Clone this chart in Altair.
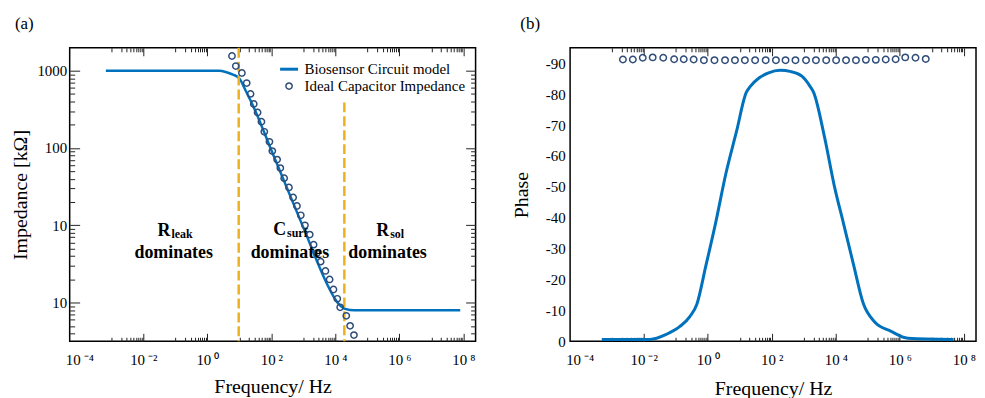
import altair as alt
import pandas as pd

SERIF = "Liberation Serif"
BLUE = "#0072BD"
NAVY = "#2F4C78"
ORANGE = "#EDB120"

# ---------------- Panel (a): impedance ----------------
line_a_logf = [-3.17, 0.37, 0.6, 0.8, 1.0, 1.2, 1.5, 2.0, 3.0, 3.8, 4.0, 4.15, 4.3, 4.6, 7.9]
line_a_logz = [3.0, 3.0, 2.98, 2.95, 2.90, 2.74, 2.48, 1.97, 0.97, 0.19, 0.04, -0.04, -0.08, -0.1, -0.1]

cap_a_logf = [0.77, 0.89, 1.08, 1.23, 1.35, 1.45, 1.57, 1.69, 1.78, 1.94, 2.03, 2.18, 2.28, 2.40,
              2.55, 2.68, 2.80, 2.92, 3.05, 3.20, 3.32, 3.42, 3.54, 3.69, 3.82, 3.94, 4.06, 4.15,
              4.34, 4.46, 4.58]
cap_a_logz = [3.19, 3.06, 2.97, 2.84, 2.70, 2.57, 2.46, 2.34, 2.21, 2.08, 1.96, 1.85, 1.74, 1.61,
              1.49, 1.36, 1.25, 1.13, 1.00, 0.88, 0.75, 0.64, 0.53, 0.41, 0.30, 0.17, 0.05, -0.06,
              -0.17, -0.30, -0.42]

rule_logf = [0.98, 4.28]
rule_top_logz = [3.296, 2.59]
rule_bottom_logz = [-0.5, -0.5]

ann_main = ["R", "C", "R"]
ann_sub = ["leak", "surf", "sol"]
ann_join_logf = [-1.15, 2.46, 5.68]
ann_main_logz = [0.86, 0.87, 0.86]
ann_sub_logz = [0.835, 0.845, 0.835]
ann_word = ["dominates", "dominates", "dominates"]
ann_word_logf = [-1.05, 2.58, 5.63]
ann_word_logz = [0.58, 0.58, 0.58]

series_names = ["Biosensor Circuit model", "Ideal Capacitor Impedance"]

# ---------------- Panel (b): phase ----------------
line_b_logf = [-3.31, -1.80, -1.30, -0.87, -0.56, -0.34, -0.06, 0.25, 0.56, 0.90, 1.20, 1.33, 1.61,
               1.90, 2.26, 2.60, 2.94, 3.19, 3.31, 3.65, 3.96, 4.23, 4.55, 4.86, 5.20, 5.73, 6.25, 7.68]
line_b_phase = [-0.6, -0.6, -2.2, -4.8, -8.0, -12.0, -24.4, -38.5, -54.0, -68.0, -80.5, -82.5, -85.3,
                -86.9, -87.7, -87.3, -85.8, -82.6, -80.5, -66.0, -50.0, -38.6, -25.0, -12.2, -6.4, -3.2, -1.0, -0.6]

cap_b_logf = [-2.65, -2.34, -2.03, -1.72, -1.39, -1.05, -0.75, -0.44, -0.12, 0.21, 0.54, 0.85, 1.16,
              1.48, 1.81, 2.13, 2.43, 2.74, 3.07, 3.38, 3.70, 4.01, 4.32, 4.63, 4.94, 5.25, 5.56,
              5.87, 6.17, 6.49, 6.81]
cap_b_phase = [-91.2, -91.2, -91.8, -91.9, -91.8, -91.3, -91.3, -91.2, -91.0, -91.0, -91.0, -91.0, -91.0,
               -91.0, -91.0, -91.0, -91.0, -91.0, -91.0, -91.0, -91.0, -91.0, -91.0, -91.0, -91.1, -91.1, -91.2,
               -91.3, -91.9, -91.8, -91.4]

# ---------------- axes helpers ----------------
x_major = [1e-4, 1e-2, 1.0, 1e2, 1e4, 1e6, 1e8]
x_tick_values = []
for k in [-3, -1, 1, 3, 5, 7]:
    for n in range(1, 10):
        x_tick_values.append(n * 10.0 ** k)
    x_tick_values.append(10.0 ** (k + 1))

y_a_major = [1.0, 10.0, 100.0, 1000.0]
y_a_tick_values = [n * 10.0 ** k for k in range(-1, 4) for n in range(1, 10)
                   if 10 ** -0.5 <= n * 10.0 ** k <= 10 ** 3.29]
y_b_major = [-90, -80, -70, -60, -50, -40, -30, -20, -10, 0]

W, H = 408, 295
XDOM = [10 ** -4.3, 10 ** 8.38]
x_scale = alt.Scale(type="log", domain=XDOM, nice=False)
ya_scale = alt.Scale(type="log", domain=[10 ** -0.5, 10 ** 3.296], nice=False)
yb_scale = alt.Scale(domain=[0, -95], nice=False, zero=False)

sup = "['10\u2009\u207b\u2074','','10\u2009\u207b\u00b2','','10\u2009\u2070','','10\u2009\u00b2','','10\u2009\u2074','','10\u2009\u2076','','10\u2009\u2078']"
x_label_expr = sup + "[round(log(datum.value)/LN10)+4]"

x_major_test = "abs(log(datum.value)/LN10 - round(log(datum.value)/LN10)) < 0.001 && round(log(datum.value)/LN10) % 2 == 0"
y_major_test = "abs(log(datum.value)/LN10 - round(log(datum.value)/LN10)) < 0.001"


def x_label_axis(title_pad):
    return alt.Axis(values=x_major, labelExpr=x_label_expr, ticks=False, tickSize=0, domain=False,
                    grid=False, labelPadding=11, labelFont=SERIF, labelFontSize=15, labelColor="black",
                    title="Frequency/ Hz", titleFont=SERIF, titleFontSize=20, titleFontWeight="normal",
                    titleColor="black", titlePadding=title_pad)


def x_tick_axis(orient):
    return alt.Axis(orient=orient, offset=-H, values=x_tick_values, labels=False, domain=False,
                    grid=False, title=None, tickColor="#222", tickWidth=1,
                    tickSize={"condition": {"test": x_major_test, "value": 8}, "value": 4})


def y_tick_axis(orient):
    return alt.Axis(orient=orient, offset=-W, values=y_a_tick_values, labels=False, domain=False,
                    grid=False, title=None, tickColor="#222", tickWidth=1,
                    tickSize={"condition": {"test": y_major_test, "value": 10}, "value": 5})


# ---------------- data frames ----------------
df_line_a = pd.DataFrame({"f": [10 ** v for v in line_a_logf], "z": [10 ** v for v in line_a_logz]})
df_cap_a = pd.DataFrame({"f": [10 ** v for v in cap_a_logf], "z": [10 ** v for v in cap_a_logz],
                         "series": series_names[1]})
df_rule = pd.DataFrame({"f": [10 ** v for v in rule_logf], "z1": [10 ** v for v in rule_top_logz],
                        "z2": [10 ** v for v in rule_bottom_logz]})
df_main = pd.DataFrame({"f": [10 ** v for v in ann_join_logf], "z": [10 ** v for v in ann_main_logz],
                        "t": ann_main})
df_sub = pd.DataFrame({"f": [10 ** v for v in ann_join_logf], "z": [10 ** v for v in ann_sub_logz],
                       "t": ann_sub})
df_word = pd.DataFrame({"f": [10 ** v for v in ann_word_logf], "z": [10 ** v for v in ann_word_logz],
                        "t": ann_word})

df_line_b = pd.DataFrame({"f": [10 ** v for v in line_b_logf], "p": line_b_phase})
df_cap_b = pd.DataFrame({"f": [10 ** v for v in cap_b_logf], "p": cap_b_phase})

# ---------------- panel (a) ----------------
legend = alt.Legend(title=None, orient="none", legendX=210, legendY=11, labelFont=SERIF,
                    labelFontSize=15, labelColor="black", rowPadding=1, labelOffset=5, labelLimit=400)
sdom = series_names

line_a = alt.Chart(df_line_a).mark_line(color=BLUE, strokeWidth=2.5, interpolate="monotone").encode(
    x=alt.X("f:Q", scale=x_scale, axis=x_label_axis(9)),
    y=alt.Y("z:Q", scale=ya_scale,
            axis=alt.Axis(values=y_a_major,
                          labelExpr="datum.value < 5 ? '10' : format(datum.value, 'd')",
                          ticks=False, tickSize=0, domain=False, grid=False, labelPadding=3,
                          labelFont=SERIF, labelFontSize=15, labelColor="black",
                          title="Impedance [k\u03a9]", titleFont=SERIF, titleFontSize=20,
                          titleFontWeight="normal", titleColor="black", titlePadding=6)),
)

pts_a = alt.Chart(df_cap_a).mark_point(filled=False, opacity=1).encode(
    x=alt.X("f:Q", scale=x_scale, axis=x_tick_axis("top")),
    y=alt.Y("z:Q", scale=ya_scale, axis=y_tick_axis("right")),
    color=alt.Color("series:N", scale=alt.Scale(domain=sdom, range=[BLUE, NAVY]), legend=legend),
    shape=alt.Shape("series:N", scale=alt.Scale(domain=sdom, range=["stroke", "circle"]), legend=legend),
    size=alt.Size("series:N", scale=alt.Scale(domain=sdom, range=[324, 40]), legend=legend),
    strokeWidth=alt.StrokeWidth("series:N", scale=alt.Scale(domain=sdom, range=[3, 1.5]), legend=legend),
)

rules = alt.Chart(df_rule).mark_rule(color=ORANGE, strokeWidth=2.5, strokeDash=[10, 4]).encode(
    x=alt.X("f:Q", scale=x_scale, axis=x_tick_axis("bottom")),
    y=alt.Y("z1:Q", scale=ya_scale, axis=y_tick_axis("left")),
    y2="z2:Q",
)

txt_main = alt.Chart(df_main).mark_text(font=SERIF, fontSize=18, fontWeight="bold", align="right",
                                        baseline="alphabetic", color="black").encode(
    x=alt.X("f:Q", scale=x_scale, axis=None), y=alt.Y("z:Q", scale=ya_scale, axis=None), text="t:N")
txt_sub = alt.Chart(df_sub).mark_text(font=SERIF, fontSize=12, fontWeight="bold", align="left", dx=1,
                                      baseline="alphabetic", color="black").encode(
    x=alt.X("f:Q", scale=x_scale, axis=None), y=alt.Y("z:Q", scale=ya_scale, axis=None), text="t:N")
txt_word = alt.Chart(df_word).mark_text(font=SERIF, fontSize=18, fontWeight="bold", align="center",
                                        baseline="alphabetic", color="black").encode(
    x=alt.X("f:Q", scale=x_scale, axis=None), y=alt.Y("z:Q", scale=ya_scale, axis=None), text="t:N")

panel_a = alt.layer(line_a, rules, pts_a, txt_main, txt_sub, txt_word).resolve_axis(
    x="independent", y="independent").properties(
    width=W, height=H,
    title=alt.TitleParams(text="(a)", anchor="start", frame="group", dx=-55, offset=14, font=SERIF,
                          fontSize=17, fontWeight="normal", color="black"))

# ---------------- panel (b) ----------------
line_b = alt.Chart(df_line_b).mark_line(color=BLUE, strokeWidth=3, interpolate="monotone").encode(
    x=alt.X("f:Q", scale=x_scale, axis=x_label_axis(11)),
    y=alt.Y("p:Q", scale=yb_scale,
            axis=alt.Axis(values=y_b_major,
                          labelExpr="datum.value == 0 ? '0' : '-' + abs(datum.value)",
                          ticks=False, tickSize=0, domain=False, grid=False, labelPadding=5,
                          labelFont=SERIF, labelFontSize=15, labelColor="black",
                          title="Phase", titleFont=SERIF, titleFontSize=20, titleFontWeight="normal",
                          titleColor="black", titlePadding=14)),
)
pts_b = alt.Chart(df_cap_b).mark_point(filled=False, color=NAVY, size=42, strokeWidth=1.5, opacity=1).encode(
    x=alt.X("f:Q", scale=x_scale, axis=x_tick_axis("top")),
    y=alt.Y("p:Q", scale=yb_scale, axis=None),
)
pts_b_top = alt.Chart(df_cap_b).mark_point(filled=False, opacity=0).encode(
    x=alt.X("f:Q", scale=x_scale, axis=x_tick_axis("bottom")),
    y=alt.Y("p:Q", scale=yb_scale, axis=None),
)

panel_b = alt.layer(line_b, pts_b, pts_b_top).resolve_axis(x="independent", y="independent").properties(
    width=W, height=H,
    title=alt.TitleParams(text="(b)", anchor="start", frame="group", dx=-50, offset=14, font=SERIF,
                          fontSize=17, fontWeight="normal", color="black"))

chart = alt.hconcat(panel_a, panel_b, spacing=33).properties(
    padding={"left": 2, "top": 5, "right": 0, "bottom": 0},
    background="white",
).configure_view(stroke="black", strokeWidth=1.5).configure_concat(spacing=33)

chart.save("out.html", embed_options={"renderer": "svg", "actions": False})
